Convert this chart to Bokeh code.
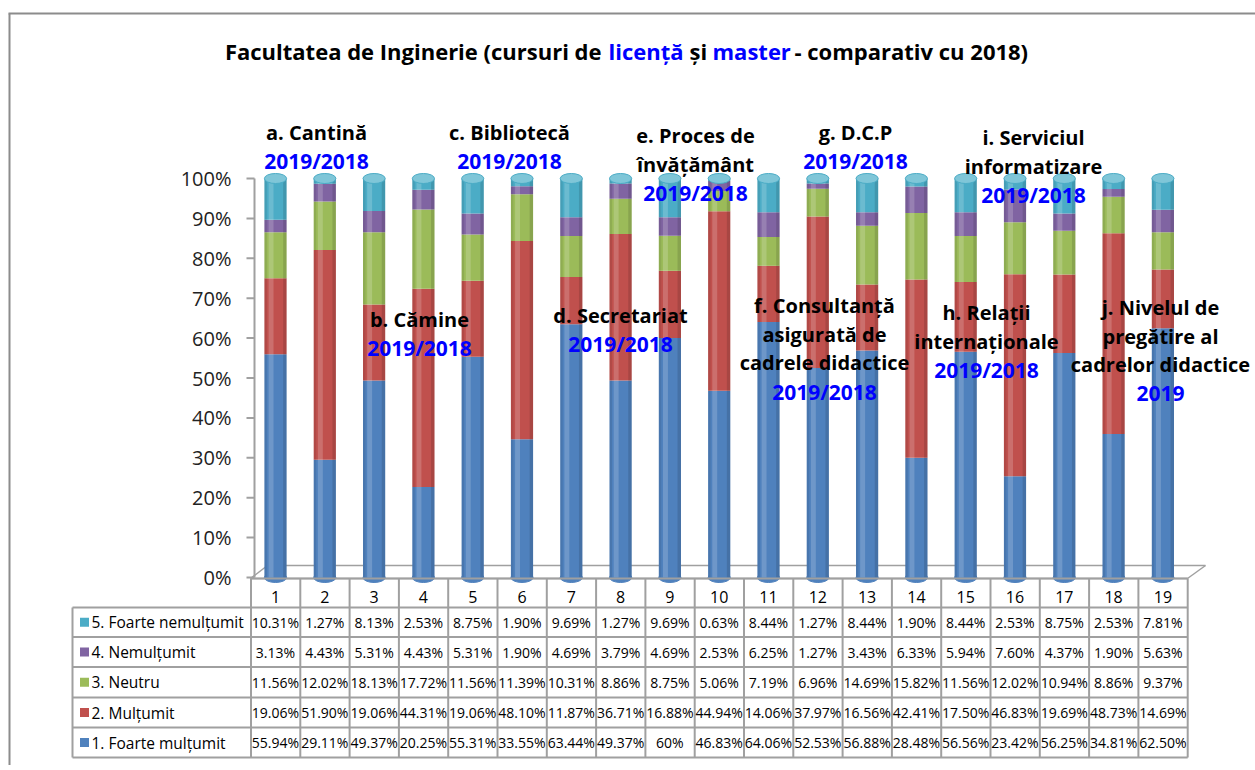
from bokeh.plotting import figure
from bokeh.models import Range1d, ColumnDataSource
from bokeh.core.properties import value
from bokeh.embed import file_html
from bokeh.resources import INLINE

# ---------------- data ----------------
categories = [str(i) for i in range(1, 20)]
series_names = ["1. Foarte mulțumit", "2. Mulțumit", "3. Neutru",
                "4. Nemulțumit", "5. Foarte nemulțumit"]
foarte_multumit = [55.94, 29.11, 49.37, 20.25, 55.31, 33.55, 63.44, 49.37, 60, 46.83,
                   64.06, 52.53, 56.88, 28.48, 56.56, 23.42, 56.25, 34.81, 62.50]
multumit = [19.06, 51.90, 19.06, 44.31, 19.06, 48.10, 11.87, 36.71, 16.88, 44.94,
            14.06, 37.97, 16.56, 42.41, 17.50, 46.83, 19.69, 48.73, 14.69]
neutru = [11.56, 12.02, 18.13, 17.72, 11.56, 11.39, 10.31, 8.86, 8.75, 5.06,
          7.19, 6.96, 14.69, 15.82, 11.56, 12.02, 10.94, 8.86, 9.37]
nemultumit = [3.13, 4.43, 5.31, 4.43, 5.31, 1.90, 4.69, 3.79, 4.69, 2.53,
              6.25, 1.27, 3.43, 6.33, 5.94, 7.60, 4.37, 1.90, 5.63]
foarte_nemultumit = [10.31, 1.27, 8.13, 2.53, 8.75, 1.90, 9.69, 1.27, 9.69, 0.63,
                     8.44, 1.27, 8.44, 1.90, 8.44, 2.53, 8.75, 2.53, 7.81]
series_values = [foarte_multumit, multumit, neutru, nemultumit, foarte_nemultumit]

tick_values = [0, 0.1, 0.2, 0.3, 0.4, 0.5, 0.6, 0.7, 0.8, 0.9, 1.0]
tick_labels = ["0%", "10%", "20%", "30%", "40%", "50%", "60%", "70%", "80%", "90%", "100%"]

title_parts = ["Facultatea de Inginerie (cursuri de", "licență", "și", "master",
               "- comparativ cu 2018)"]
group_titles = [
    ["a. Cantină"], ["b. Cămine"], ["c. Bibliotecă"], ["d. Secretariat"],
    ["e. Proces de", "învățământ"],
    ["f. Consultanță", "asigurată de", "cadrele didactice"],
    ["g. D.C.P"], ["h. Relații", "internaționale"],
    ["i. Serviciul", "informatizare"],
    ["j. Nivelul de", "pregătire al", "cadrelor didactice"],
]
group_years = ["2019/2018"] * 9 + ["2019"]

# ---------------- styling / layout ----------------
colors = ["#4F81BD", "#C0504D", "#9BBB59", "#8064A2", "#4BACC6"]
FONT = "Open Sans"
W, H = 1255, 765


def X(r):  # reference pixel x -> data x
    return 1 + (r - 275.0) / 49.3


def Y(r):  # reference pixel y -> data y
    return (577.0 - r) / 399.0


p = figure(width=W, height=H, output_backend="svg", toolbar_location=None,
           x_range=Range1d(X(0), X(W)), y_range=Range1d(Y(H), Y(0)),
           x_axis_type=None, y_axis_type=None, min_border=0)
p.grid.visible = False
p.outline_line_color = None
p.background_fill_color = "white"

GRAY = "#A0A0A0"

# outer frame (left and top edges)
p.segment(x0=[X(9), X(8)], y0=[Y(13), Y(13)], x1=[X(9), X(1265)], y1=[Y(780), Y(13)],
          line_color="#8C8C8C", line_width=2)

# title
t_pos = [(601, "right"), (608, "left"), (689, "left"), (712, "left"), (794, "left")]
t_col = ["black", "#0000FF", "black", "#0000FF", "black"]
for txt, (px, al), c in zip(title_parts, t_pos, t_col):
    p.text(x=[X(px)], y=[Y(50)], text=[txt], text_align=al, text_baseline="middle",
           text_font=value(FONT), text_font_style="bold", text_font_size="22px",
           text_color=c)

# floor (3D base)
p.segment(x0=[X(250), X(1187), X(250), X(267)], y0=[Y(578), Y(578), Y(578), Y(565)],
          x1=[X(1187), X(1205), X(267), X(1205)], y1=[Y(578), Y(565), Y(565), Y(565)],
          line_color=GRAY, line_width=1.5)

# y axis (drawn with the figure's own scale)
p.segment(x0=[X(254)], y0=[0], x1=[X(254)], y1=[1], line_color=GRAY, line_width=2)
p.segment(x0=[X(246)] * len(tick_values), y0=tick_values,
          x1=[X(254)] * len(tick_values), y1=tick_values, line_color=GRAY, line_width=2)
p.text(x=[X(231)] * len(tick_values), y=tick_values, text=tick_labels,
       text_align="right", text_baseline="middle", text_font=value(FONT),
       text_font_size="20px", text_color="#222222")

# bars (100% stacked: each column normalised by its total)
xs = list(range(1, len(categories) + 1))
totals = [sum(v[j] for v in series_values) for j in range(len(xs))]
data = {"x": xs}
keys = []
for i, vals in enumerate(series_values):
    k = "s%d" % i
    keys.append(k)
    data[k] = [v / t for v, t in zip(vals, totals)]
src = ColumnDataSource(data)
tops = [1.0] * len(xs)
BW = 0.45
CAP = 10 / 399.0
p.ellipse(x=xs, y=[0] * len(xs), width=BW, height=CAP, fill_color=colors[0],
          line_color=colors[0])
p.vbar_stack(keys, x="x", width=BW, color=colors, source=src, line_color=None)
# cylinder shading
p.vbar(x=[x - 0.09 for x in xs], bottom=0, top=tops, width=0.1,
       fill_color="white", fill_alpha=0.18, line_color=None)
p.vbar(x=[x + 0.19 for x in xs], bottom=0, top=tops, width=0.07,
       fill_color="black", fill_alpha=0.12, line_color=None)
p.vbar(x=[x - 0.2 for x in xs], bottom=0, top=tops, width=0.05,
       fill_color="black", fill_alpha=0.08, line_color=None)
p.ellipse(x=xs, y=tops, width=BW, height=CAP, fill_color="#7FC6D8",
          line_color="#4BACC6", line_width=1)

# group annotations
g_pos = [(316, 132), (419, 319), (509, 132), (620, 315), (695, 135),
         (824, 305), (855, 132), (986, 312), (1033, 137), (1160, 307)]
for lines, yr, (cx, cy) in zip(group_titles, group_years, g_pos):
    ys = [Y(cy + 28.7 * k) for k in range(len(lines))]
    p.text(x=[X(cx)] * len(lines), y=ys, text=lines, text_align="center",
           text_baseline="middle", text_font=value(FONT), text_font_style="bold",
           text_font_size="20px", text_color="black")
    p.text(x=[X(cx)], y=[Y(cy + 28.7 * len(lines))], text=[yr], text_align="center",
           text_baseline="middle", text_font=value(FONT), text_font_style="bold",
           text_font_size="21px", text_color="#0000FF")

# data table
col_l = 250.5
col_w = 49.3
ncol = len(categories)
tbl_r = col_l + col_w * ncol
row_lines = [607, 636.5, 666.5, 697, 727, 757]
hx0 = [col_l] + [72] * len(row_lines)
hy = [578] + row_lines
hx1 = [tbl_r] * len(hy)
p.segment(x0=[X(v) for v in hx0], y0=[Y(v) for v in hy], x1=[X(v) for v in hx1],
          y1=[Y(v) for v in hy], line_color=GRAY, line_width=2)
vx = [col_l + col_w * k for k in range(ncol + 1)]
p.segment(x0=[X(v) for v in vx], y0=[Y(578)] * len(vx), x1=[X(v) for v in vx],
          y1=[Y(757)] * len(vx), line_color=GRAY, line_width=2)
p.segment(x0=[X(72)], y0=[Y(607)], x1=[X(72)], y1=[Y(757)], line_color=GRAY,
          line_width=2)

# header row numbers
p.text(x=xs, y=[Y(596)] * ncol, text=categories, text_align="center",
       text_baseline="middle", text_font=value(FONT), text_font_size="16px",
       text_color="black")


def fmt(v):
    return "%d%%" % v if float(v).is_integer() else "%.2f%%" % v


row_centers = [(row_lines[k] + row_lines[k + 1]) / 2 for k in range(5)]
for r, idx in enumerate([4, 3, 2, 1, 0]):
    cy = row_centers[r]
    p.text(x=xs, y=[Y(cy)] * ncol, text=[fmt(v) for v in series_values[idx]],
           text_align="center", text_baseline="middle", text_font=value(FONT),
           text_font_size="14px", text_color="black")
    p.rect(x=[X(84)], y=[Y(cy)], width=9 / 49.3, height=9 / 399.0,
           fill_color=colors[idx], line_color=None)
    p.text(x=[X(91)], y=[Y(cy)], text=[series_names[idx]], text_align="left",
           text_baseline="middle", text_font=value(FONT), text_font_size="15.5px",
           text_color="black")

open("out.html", "w").write(file_html(p, INLINE))
